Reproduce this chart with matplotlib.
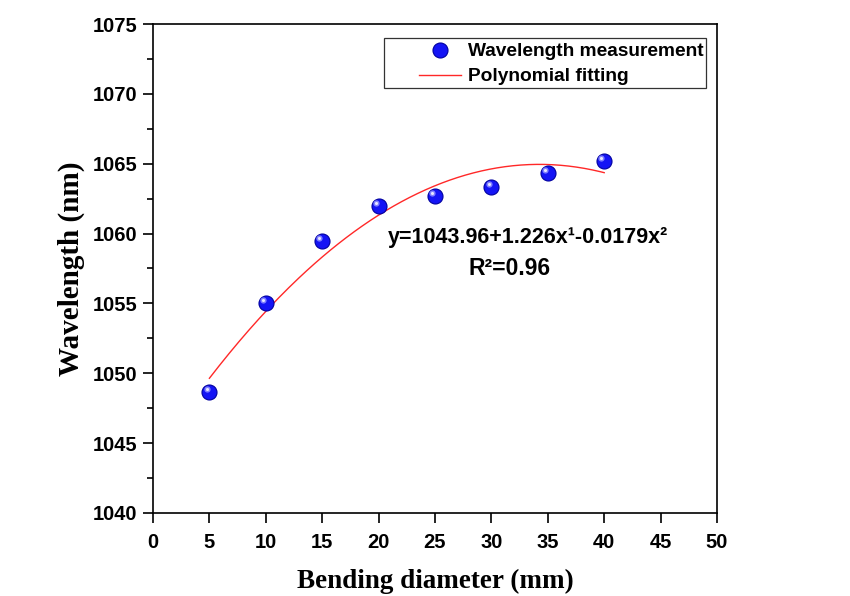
import numpy as np
import matplotlib
matplotlib.use('Agg')
import matplotlib.pyplot as plt
import matplotlib.transforms as mtransforms
from matplotlib.patches import Rectangle
from matplotlib.ticker import MultipleLocator

# bending diameter (mm) and measured wavelength (nm)
diameter = [5, 10, 15, 20, 25, 30, 35, 40]
wavelength = [1048.68, 1055.05, 1059.49, 1061.98, 1062.69, 1063.36, 1064.36, 1065.22]

# polynomial fit coefficients as printed on the chart: c0 + c1*x + c2*x^2
fit_coeffs = [1043.96, 1.226, -0.0179]
fit_range = [5, 40]

eq_text = 'y=1043.96+1.226x\u00b9-0.0179x\u00b2'
r2_text = 'R\u00b2=0.96'

sans = 'Liberation Sans'
serif = 'Liberation Serif'

fig = plt.figure(figsize=(8.5, 5.96), dpi=100)
ax = fig.add_axes([0.18, 0.1393, 0.6635, 0.8204])

# fitted curve
xf = np.linspace(fit_range[0], fit_range[1], 200)
yf = np.polyval(fit_coeffs[::-1], xf)
fit_line, = ax.plot(xf, yf, color='#ff2828', lw=1.0, zorder=2)

# "sphere" markers: blue ball with a small light highlight
pts, = ax.plot(diameter, wavelength, 'o', ms=10.8, color='#1414f5',
               mec='#0000a0', mew=0.8, ls='none', zorder=3)
hl_trans = mtransforms.offset_copy(ax.transData, fig=fig, x=-2.0, y=2.0, units='points')
ax.plot(diameter, wavelength, 'o', ms=4.5, color='#8080ff', mew=0,
        ls='none', transform=hl_trans, zorder=4)
ax.plot(diameter, wavelength, 'o', ms=2.2, color='#e8e8ff', mew=0,
        ls='none', transform=hl_trans, zorder=5)

ax.set_xlim(0, 50)
ax.set_ylim(1040, 1075)
ax.xaxis.set_major_locator(MultipleLocator(5))
ax.yaxis.set_major_locator(MultipleLocator(5))
ax.yaxis.set_minor_locator(MultipleLocator(2.5))

ax.tick_params(axis='both', which='major', direction='out', length=7.5, width=1.2,
               labelsize=14.5, pad=4)
ax.tick_params(axis='x', which='major', pad=7)
ax.tick_params(axis='y', which='minor', direction='out', length=4, width=1.2)
for lab in ax.get_xticklabels() + ax.get_yticklabels():
    lab.set_fontfamily(sans)
    lab.set_fontweight('bold')
for sp in ax.spines.values():
    sp.set_linewidth(1.2)

ax.set_xlabel('Bending diameter (mm)', fontfamily=serif, fontweight='bold',
              fontsize=19.5, labelpad=12)
ax.set_ylabel('Wavelength (nm)', fontfamily=serif, fontweight='bold',
              fontsize=21, labelpad=5)

ax.text(20.8, 1059.75, eq_text, fontfamily=sans, fontweight='bold', fontsize=15.5,
        ha='left', va='center')
ax.text(31.6, 1057.5, r2_text, fontfamily=sans, fontweight='bold', fontsize=16.5,
        ha='center', va='center')

# legend box drawn by hand, legend entries without frame
ax.add_patch(Rectangle((0.4096, 0.869), 0.5709, 0.1024, transform=ax.transAxes,
                       fill=True, facecolor='white', edgecolor='#333333', lw=0.9,
                       zorder=6))
leg = ax.legend([pts, fit_line], ['Wavelength measurement', 'Polynomial fitting'],
                loc='upper right', bbox_to_anchor=(0.985, 0.971), borderaxespad=0,
                frameon=False, prop={'family': sans, 'weight': 'bold', 'size': 13.8},
                handlelength=2.2, handletextpad=0.35, labelspacing=0.4,
                borderpad=0.25)
leg.set_zorder(7)

fig.savefig('out.png', dpi=100)
